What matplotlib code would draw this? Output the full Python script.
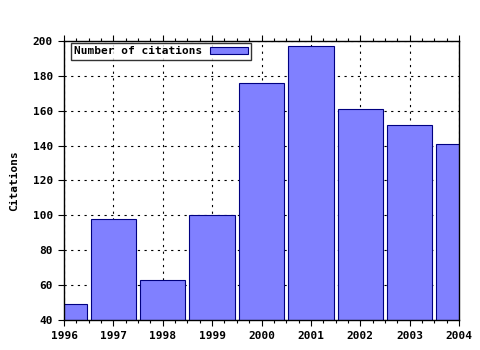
import matplotlib
matplotlib.use("Agg")
import matplotlib.pyplot as plt
from matplotlib.ticker import MultipleLocator

years = [1996, 1997, 1998, 1999, 2000, 2001, 2002, 2003, 2004]
citations = [49, 98, 63, 100, 176, 197, 161, 152, 141]
legend_label = "Number of citations"
ylabel = "Citations"

plt.rcParams['font.family'] = ['DejaVu Sans Mono']
plt.rcParams['font.weight'] = 'bold'
plt.rcParams['font.size'] = 8

fig = plt.figure(figsize=(4.8, 3.5), dpi=100)
ax = fig.add_axes([64/480, 1-320/350, (459-64)/480, (320-41)/350])

ax.bar(years, citations, width=0.92, color='#8080ff', edgecolor='#000080',
       linewidth=0.8, label=legend_label, zorder=2)
ax.set_xlim(1996, 2004)
ax.set_ylim(40, 200)
ax.set_xticks(years)
ax.set_yticks(range(40, 201, 20))
ax.xaxis.set_minor_locator(MultipleLocator(0.25))
ax.grid(True, which='major', color='black', linestyle=(0, (2, 4)), linewidth=0.8, zorder=1)
ax.tick_params(which='both', direction='out', top=True, right=False, labelsize=8, width=0.8)
ax.tick_params(which='major', length=4, pad=4)
ax.tick_params(which='minor', length=2.5)
for s in ax.spines.values():
    s.set_linewidth(1)
ax.set_ylabel(ylabel, fontweight='bold', labelpad=10)
leg = ax.legend(loc='upper left', frameon=True, fancybox=False, edgecolor='black',
                borderpad=0.3, handlelength=3.4, handleheight=0.6, borderaxespad=0,
                handletextpad=0.7, markerfirst=False,
                bbox_to_anchor=(71/480, 1-43/350), bbox_transform=fig.transFigure)
leg.get_frame().set_linewidth(1)
leg.set_zorder(5)
fig.savefig('out.png', dpi=100)
